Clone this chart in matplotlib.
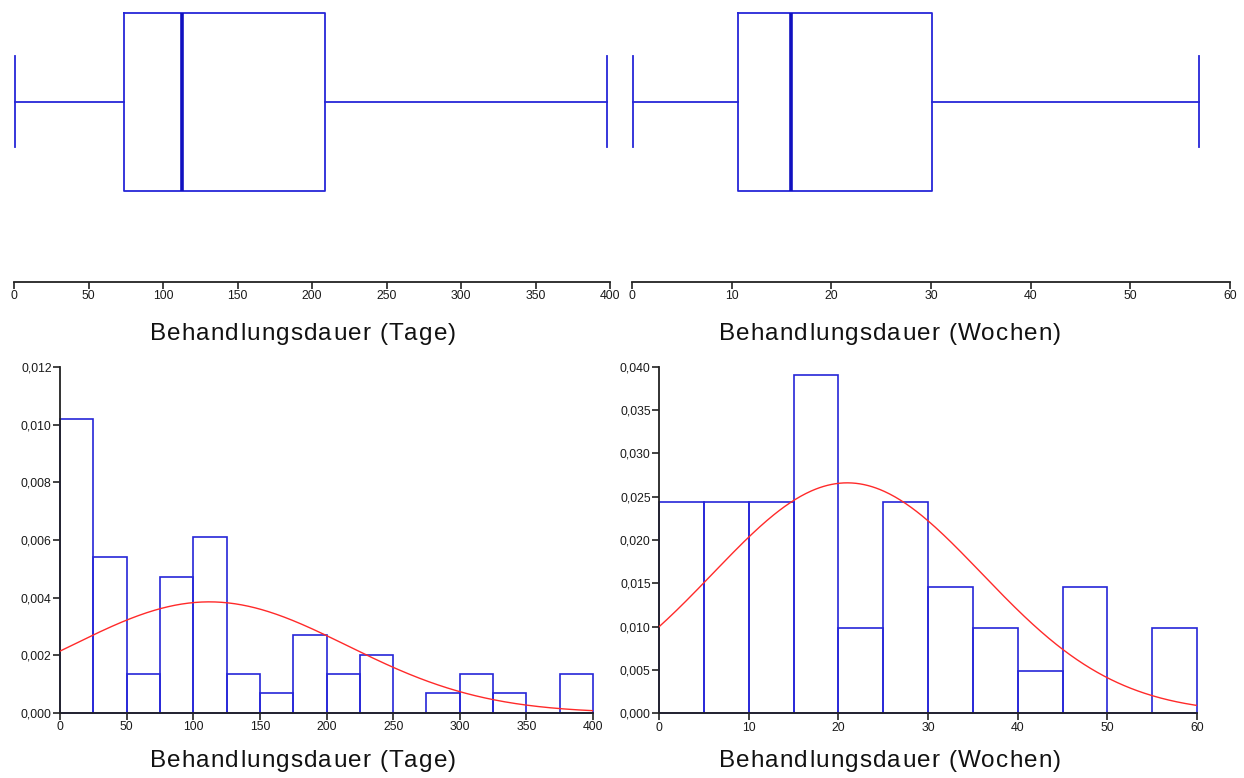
import numpy as np
import matplotlib
matplotlib.use("Agg")
import matplotlib.pyplot as plt
from matplotlib import font_manager
from matplotlib.font_manager import FontProperties
from matplotlib.ticker import FuncFormatter, FixedLocator
from fontTools.ttLib import TTFont

# ---- data ---------------------------------------------------------------
# Box plot summaries (whisker low, Q1, median, Q3, whisker high)
days_box = dict(whislo=1, q1=74, med=112.5, q3=209, whishi=398)
weeks_box = dict(whislo=0.1, q1=10.6, med=16.0, q3=30.1, whishi=56.9)

# Histogram: bin edges and density heights
days_edges = [0, 25, 50, 75, 100, 125, 150, 175, 200, 225, 250, 275, 300, 325, 350, 375, 400]
days_density = [0.0102, 0.0054, 0.00135, 0.0047, 0.0061, 0.00135, 0.00068, 0.0027,
                0.00135, 0.0020, 0.0, 0.00068, 0.00135, 0.00068, 0.0, 0.00135]
weeks_edges = [0, 5, 10, 15, 20, 25, 30, 35, 40, 45, 50, 55, 60]
weeks_density = [0.0244, 0.0244, 0.0244, 0.039, 0.0098, 0.0244, 0.0146, 0.0098,
                 0.0049, 0.0146, 0.0, 0.0098]

# Fitted normal curves
days_mean, days_sd = 112.0, 103.5
weeks_mean, weeks_sd = 21.0, 15.0

days_ticks = [0, 50, 100, 150, 200, 250, 300, 350, 400]
weeks_ticks = [0, 10, 20, 30, 40, 50, 60]
days_yticks = [0.000, 0.002, 0.004, 0.006, 0.008, 0.010, 0.012]
weeks_yticks = [0.000, 0.005, 0.010, 0.015, 0.020, 0.025, 0.030, 0.035, 0.040]

label_days = "Behandlungsdauer (Tage)"
label_weeks = "Behandlungsdauer (Wochen)"

# ---- styling --------------------------------------------------------------
W, H, DPI = 1244, 778, 100
BLUE = "#2626d8"
BLUE_DARK = "#1010c0"
RED = "#ff2a2a"
AXIS = "#222222"
FONT = "Liberation Sans"

plt.rcParams["font.family"] = [FONT, "DejaVu Sans"]

fig = plt.figure(figsize=(W / DPI, H / DPI), dpi=DPI)
fig.patch.set_facecolor("white")


def rect(x0, x1, ytop, ybot):
    return [x0 / W, 1 - ybot / H, (x1 - x0) / W, (ybot - ytop) / H]


def style_axis(ax, show_y):
    for side in ("top", "right"):
        ax.spines[side].set_visible(False)
    ax.spines["bottom"].set_color(AXIS)
    ax.spines["bottom"].set_linewidth(1.3)
    if show_y:
        ax.spines["left"].set_color(AXIS)
        ax.spines["left"].set_linewidth(1.3)
    else:
        ax.spines["left"].set_visible(False)
        ax.set_yticks([])
    ax.tick_params(axis="both", direction="out", length=5, width=1.2, color=AXIS,
                   labelsize=8.8, labelcolor="#1a1a1a", pad=1)
    ax.set_facecolor("white")


def draw_box(ax, stats, xmax, ticks):
    s = dict(stats)
    s["fliers"] = []
    ax.bxp([s], positions=[102], widths=178, capwidths=[91],
           orientation="horizontal", showfliers=False,
           boxprops=dict(color=BLUE, linewidth=1.3),
           whiskerprops=dict(color=BLUE, linewidth=1.3),
           capprops=dict(color=BLUE, linewidth=1.3),
           medianprops=dict(color=BLUE_DARK, linewidth=2.6))
    ax.set_xlim(0, xmax)
    ax.set_ylim(282, 0)
    style_axis(ax, show_y=False)
    ax.xaxis.set_major_locator(FixedLocator(ticks))
    ax.set_xticklabels([str(t) for t in ticks])


def draw_hist(ax, edges, dens, mean, sd, xmax, ymax, ticks, yticks):
    edges = np.asarray(edges, dtype=float)
    ax.bar(edges[:-1], dens, width=np.diff(edges), align="edge",
           facecolor="none", edgecolor=BLUE, linewidth=1.2, zorder=2, clip_on=False)
    xs = np.linspace(0, xmax, 400)
    pdf = np.exp(-0.5 * ((xs - mean) / sd) ** 2) / (sd * np.sqrt(2 * np.pi))
    ax.plot(xs, pdf, color=RED, linewidth=1.0, zorder=3)
    ax.set_xlim(0, xmax)
    ax.set_ylim(0, ymax)
    style_axis(ax, show_y=True)
    ax.xaxis.set_major_locator(FixedLocator(ticks))
    ax.set_xticklabels([str(t) for t in ticks])
    ax.yaxis.set_major_locator(FixedLocator(yticks))
    ax.yaxis.set_major_formatter(FuncFormatter(lambda v, p: f"{v:.3f}".replace(".", ",")))


# glyph advance widths straight from the font file
_font_path = font_manager.findfont(FontProperties(family=FONT))
_tt = TTFont(_font_path)
_cmap = _tt.getBestCmap()
_hmtx = _tt["hmtx"]
_upem = _tt["head"].unitsPerEm


def advances(s, size):
    scale = size * DPI / 72.0 / _upem
    return [_hmtx[_cmap[ord(c)]][0] * scale for c in s]


def tracked_text(xc, y_base, s, size, track):
    """Place a centred caption with extra letter spacing (pixel units)."""
    prop = FontProperties(family=FONT, size=size)
    adv = advances(s, size)
    total = sum(adv) + track * (len(s) - 1)
    x = xc - total / 2.0
    for c, a in zip(s, adv):
        if c != " ":
            fig.text(x / W, 1 - y_base / H, c, ha="left", va="baseline",
                     fontproperties=prop, color="#111111")
        x += a + track


ax1 = fig.add_axes(rect(14, 610, 0, 282))
draw_box(ax1, days_box, 400, days_ticks)

ax2 = fig.add_axes(rect(632, 1230, 0, 282))
draw_box(ax2, weeks_box, 60, weeks_ticks)

ax3 = fig.add_axes(rect(60, 593, 367, 713))
draw_hist(ax3, days_edges, days_density, days_mean, days_sd, 400, 0.012,
          days_ticks, days_yticks)

ax4 = fig.add_axes(rect(659, 1197, 366.7, 713.3))
draw_hist(ax4, weeks_edges, weeks_density, weeks_mean, weeks_sd, 60, 0.040,
          weeks_ticks, weeks_yticks)

# axis captions below each panel
for xc, yb, txt in [(303, 340, label_days), (890, 340, label_weeks),
                    (303, 767, label_days), (890, 767, label_weeks)]:
    tracked_text(xc, yb, txt, 17.5, 1.1)

fig.savefig("out.png", dpi=DPI, facecolor="white")
